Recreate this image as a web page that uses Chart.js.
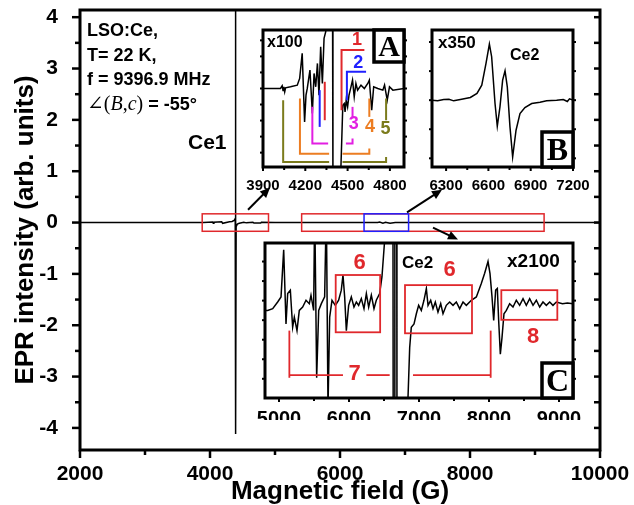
<!DOCTYPE html>
<html><head><meta charset="utf-8">
<script src="https://cdn.jsdelivr.net/npm/chart.js@4.4.1/dist/chart.umd.min.js"></script>
<style>
html,body{margin:0;padding:0;background:#fff;}
#wrap{position:relative;width:634px;height:505px;overflow:hidden;background:#fff;}
canvas{position:absolute;}
</style></head><body>
<div id="wrap">
<canvas id="main" width="634" height="505" style="left:0;top:0"></canvas>
<canvas id="insA" width="180" height="172" style="left:240px;top:20px"></canvas>
<canvas id="insB" width="180" height="172" style="left:420px;top:20px"></canvas>
<canvas id="insC" width="345" height="187" style="left:250px;top:233px"></canvas>
</div>
<script>
// ---------------- DATA ----------------
// main spectrum (field in G, intensity in arb. units)
const mainField  = [2000,3900,4040,4050,4060,4180,4195,4300,4340,4370,4388,4392,4396,4402,4420,4450,4520,4560,4660,4675,4780,4790,5000,6580,6610,6660,6700,6770,6850,10000];
const mainSignal = [0,0,0.012,-0.012,0.006,0.015,-0.015,0.015,0.02,0.04,0.08,6,-4.12,-0.08,-0.03,-0.015,0.006,-0.006,0.006,-0.01,-0.008,0.004,0,0,0.01,-0.012,0.006,-0.015,0,0];
const mainXTicks = [2000,4000,6000,8000,10000];
const mainYTicks = [-4,-3,-2,-1,0,1,2,3,4];

// inset A (x100)
const aField  = [3900,4024,4036,4042,4048,4054,4060,4095,4143,4160,4178,4195,4205,4214,4233,4250,4262,4274,4286,4297,4309,4321,4333,4345,4360,4393,4396,4448,4466,4476,4482,4490,4500,4510,4524,4535,4547,4559,4571,4595,4619,4643,4654,4671,4685,4714,4750,4762,4781,4797,4821,4904];
const aSignal = [0,0,0.08,-0.06,0.05,-0.1,0.02,0.05,0.1,0.3,1.05,-1.0,-0.2,0.0,0.55,-0.75,0.45,0.05,0.75,-0.2,1.25,0.15,1.5,1.7,3,3,-3,-3,-0.5,-0.45,-0.7,-0.35,-0.55,-0.2,0.05,0.25,-0.25,0.15,-0.05,0.1,0.0,0.15,0.25,-0.65,0.05,0,-0.05,0.1,-0.35,0.05,-0.05,0];
const aXTicks = [3900,4200,4500,4800];

// inset B (x350)
const bField  = [6200,6240,6283,6320,6354,6401,6472,6519,6553,6583,6607,6623,6647,6663,6682,6701,6718,6734,6753,6772,6796,6824,6859,6907,6966,7013,7084,7131,7160,7175,7200];
const bSignal = [0,-0.02,0.02,0.03,-0.02,0.02,0.08,0.2,0.45,1.1,1.68,1.3,-0.1,-0.78,-0.2,0.6,0.88,0.4,-0.8,-1.7,-0.9,-0.4,-0.22,-0.1,-0.06,-0.02,0,0.02,-0.04,0.04,0];
const bXTicks = [6300,6600,6900,7200];

// inset C (x2100)
const cField  = [4800,4838,4910,4981,5029,5067,5100,5124,5162,5195,5219,5257,5290,5338,5386,5433,5457,5495,5510,5538,5567,5605,5652,5676,5700,5724,5757,5805,5852,5890,5914,5938,5962,5995,6033,6071,6105,6138,6176,6214,6248,6281,6319,6357,6390,6438,6471,6510,6560,6628,6631,6652,6655,6682,6685,6838,6867,6890,6929,6962,6995,7033,7071,7105,7129,7167,7200,7233,7271,7310,7343,7390,7438,7486,7533,7581,7629,7676,7748,7819,7890,7938,7986,8014,8043,8067,8095,8119,8138,8162,8186,8214,8248,8295,8343,8390,8438,8486,8533,8581,8629,8676,8724,8771,8819,8867,8914,8962,9050,9120,9200];
const cSignal = [-0.1,-0.1,-0.05,0.15,0.3,1.7,-0.5,0.4,0.5,-0.6,-0.3,-0.7,-0.1,0.0,0.2,0.1,0.35,-0.1,3,-2.1,-0.1,0.1,0.3,3,-3,-0.3,0.2,0.05,0.2,0.5,0.95,0.3,-0.7,0.05,0.3,0.0,0.15,0.05,0.25,-0.05,0.4,0.0,0.35,-0.05,0.2,0.4,0.9,2.0,3,3,-3,-3,3,3,-3,-3,-1.2,-0.6,-0.5,-0.2,0.05,-0.1,0.2,0.55,0.05,0.2,-0.05,0.15,-0.15,0.1,-0.2,0.05,0.15,0.05,0.15,-0.05,0.15,0.05,0.2,0.3,0.7,1.0,1.35,1.0,0.3,-0.4,0.5,0.55,-0.4,-1.4,-0.9,-0.2,-0.1,0.1,0.0,0.2,0.05,0.25,0.05,0.25,0.05,0.2,0.0,0.15,0.05,0.15,0.05,0.15,0.1,0.12,0.1];
const cXTicks = [5000,6000,7000,8000,9000];

// ---------------- STYLE / HELPERS ----------------
const SANS = "'Liberation Sans', Arial, sans-serif";
const SERIF = "'Liberation Serif', 'DejaVu Serif', serif";
const RED='#e0282c', BLUE='#2020ff', MAG='#e21fe2', ORG='#ec7d22', OLV='#7b7b1c';
const pts = (xs,ys)=>xs.map((x,i)=>({x:x,y:ys[i]}));
const range=(a,b,s)=>{const r=[];for(let v=a;v<=b+1e-9;v+=s)r.push(+v.toFixed(4));return r;};
const plain = v => String(v);

const framePlugin = {
  id:'frame',
  beforeDraw(chart,args,o){
    if(o.fill){const a=chart.chartArea,c=chart.ctx;c.save();c.fillStyle='#fff';c.fillRect(a.left,a.top,a.right-a.left,a.bottom-a.top);c.restore();}
  },
  afterDraw(chart,args,o){
    const c=chart.ctx,a=chart.chartArea,X=chart.scales.x,Y=chart.scales.y;
    c.save(); c.strokeStyle='#000'; c.lineCap='butt';
    (o.ticks||[]).forEach(t=>{
      c.lineWidth=t.lw||2;
      t.values.forEach(v=>{
        c.beginPath();
        if(t.side==='bottom'||t.side==='top'){
          const x=X.getPixelForValue(v), y0=t.side==='bottom'?a.bottom:a.top, s=t.side==='bottom'?1:-1, d=t.mode==='in'?-s:s;
          c.moveTo(x,y0); c.lineTo(x,y0+d*t.len);
        } else {
          const y=Y.getPixelForValue(v), x0=t.side==='left'?a.left:a.right, s=t.side==='left'?-1:1, d=t.mode==='in'?-s:s;
          c.moveTo(x0,y); c.lineTo(x0+d*t.len,y);
        }
        c.stroke();
      });
    });
    c.lineWidth=o.lw; c.strokeRect(a.left,a.top,a.right-a.left,a.bottom-a.top);
    if(o.box){
      const b=o.box; const x=a.right-b.w; const y=b.corner==='tr'?a.top:a.bottom-b.h;
      c.fillStyle='#fff'; c.fillRect(x,y,b.w,b.h);
      c.lineWidth=3.5; c.strokeRect(x,y,b.w,b.h);
      c.fillStyle='#000'; c.font=b.font; c.textAlign='center'; c.textBaseline='middle';
      c.fillText(b.text,x+b.w/2,y+b.h/2+2);
    }
    c.restore();
  }
};

const annotPlugin = {
  id:'annot',
  afterDatasetsDraw(chart,args,o){
    const c=chart.ctx,a=chart.chartArea,X=chart.scales.x,Y=chart.scales.y;
    const px=v=>X.getPixelForValue(v), py=v=>Y.getPixelForValue(v);
    c.save();
    (o.rects||[]).forEach(r=>{c.strokeStyle=r.color;c.lineWidth=r.lw||1.5;c.strokeRect(px(r.x1),py(r.y2),px(r.x2)-px(r.x1),py(r.y1)-py(r.y2));});
    (o.segs||[]).forEach(s=>{c.strokeStyle=s.color;c.lineWidth=s.lw||2;c.beginPath();s.pts.forEach((p,i)=>{const X0=px(p[0]),Y0=py(p[1]);if(i)c.lineTo(X0,Y0);else c.moveTo(X0,Y0);});c.stroke();});
    (o.arrows||[]).forEach(ar=>{
      const x1=px(ar.x1),y1=py(ar.y1),x2=px(ar.x2),y2=py(ar.y2);
      const ang=Math.atan2(y2-y1,x2-x1), L=10, W=4.5;
      c.strokeStyle='#000';c.fillStyle='#000';c.lineWidth=2;
      c.beginPath();c.moveTo(x1,y1);c.lineTo(x2-Math.cos(ang)*L*0.8,y2-Math.sin(ang)*L*0.8);c.stroke();
      c.beginPath();c.moveTo(x2,y2);
      c.lineTo(x2-Math.cos(ang)*L+Math.sin(ang)*W,y2-Math.sin(ang)*L-Math.cos(ang)*W);
      c.lineTo(x2-Math.cos(ang)*L-Math.sin(ang)*W,y2-Math.sin(ang)*L+Math.cos(ang)*W);
      c.closePath();c.fill();
    });
    (o.texts||[]).forEach(t=>{
      c.font=t.font;c.fillStyle=t.color||'#000';c.textAlign=t.align||'center';c.textBaseline=t.baseline||'middle';
      const x=t.dx!=null?a.left+t.dx:px(t.x), y=t.dy!=null?a.top+t.dy:py(t.y);
      c.fillText(t.text,x,y);
    });
    (o.rich||[]).forEach(r=>{
      let x=a.left+r.dx; const y=a.top+r.dy;
      c.textAlign='left';c.textBaseline='alphabetic';c.fillStyle='#000';
      r.parts.forEach(p=>{c.font=p.font;c.fillText(p.t,x,y);x+=c.measureText(p.t).width+(p.gap||0);});
    });
    c.restore();
  }
};

function fixTicks(list){ return s=>{ s.ticks = list.map(v=>({value:v})); }; }

function makeInset(id, field, signal, xmin, xmax, ymin, ymax, xticks, pad, xh, tickFont, tickPad, frameOpts, annot){
  return new Chart(document.getElementById(id), {
    type:'line',
    data:{datasets:[{data:pts(field,signal),borderColor:'#000',borderWidth:1.5,pointRadius:0,tension:0,fill:false}]},
    options:{
      responsive:false, animation:false, events:[],
      layout:{padding:pad},
      plugins:{legend:{display:false},tooltip:{enabled:false},frame:frameOpts,annot:annot},
      scales:{
        x:{type:'linear',min:xmin,max:xmax,grid:{display:false},border:{display:false},
           afterBuildTicks:fixTicks(xticks), afterFit:s=>{s.height=xh;},
           ticks:{color:'#000',font:{family:SANS,size:tickFont,weight:'bold'},padding:tickPad,maxRotation:0,autoSkip:false,callback:plain}},
        y:{display:false,min:ymin,max:ymax}
      }
    },
    plugins:[framePlugin,annotPlugin]
  });
}

// ---------------- MAIN ----------------
new Chart(document.getElementById('main'), {
  type:'line',
  data:{datasets:[{data:pts(mainField,mainSignal),borderColor:'#000',borderWidth:1.5,pointRadius:0,tension:0,fill:false}]},
  options:{
    responsive:false, animation:false, events:[],
    layout:{padding:{left:0,right:34,top:10,bottom:0}},
    plugins:{
      legend:{display:false},tooltip:{enabled:false},
      frame:{lw:3,fill:false,ticks:[
        {side:'left',values:mainYTicks,len:8,mode:'out',lw:2.5},
        {side:'left',values:range(-3.5,3.5,1),len:5,mode:'out',lw:2.5},
        {side:'right',values:range(-4,4,0.5),len:6,mode:'in',lw:2.5},
        {side:'bottom',values:mainXTicks,len:8,mode:'out',lw:2.5},
        {side:'bottom',values:range(3000,9000,2000),len:5,mode:'out',lw:2.5}
      ]},
      annot:{
        rects:[
          {x1:3880,x2:4900,y1:-0.17,y2:0.17,color:RED,lw:1.5},
          {x1:5410,x2:9140,y1:-0.17,y2:0.17,color:RED,lw:1.5},
          {x1:6370,x2:7055,y1:-0.17,y2:0.17,color:BLUE,lw:1.5}
        ],
        arrows:[
          {x1:4585,y1:0.25,x2:4923,y2:0.68},
          {x1:7031,y1:0.2,x2:7569,y2:0.64},
          {x1:7431,y1:-0.1,x2:7815,y2:-0.33}
        ],
        texts:[
          {text:'LSO:Ce,',dx:7,dy:26,align:'left',baseline:'alphabetic',font:'bold 18px '+SANS},
          {text:'T= 22 K,',dx:7,dy:51,align:'left',baseline:'alphabetic',font:'bold 18px '+SANS},
          {text:'f = 9396.9 MHz',dx:7,dy:75,align:'left',baseline:'alphabetic',font:'bold 18px '+SANS},
          {text:'Ce1',dx:108,dy:139,align:'left',baseline:'alphabetic',font:'bold 21px '+SANS}
        ],
        rich:[{dx:7,dy:100,parts:[
          {t:'\u2220(',font:'20px '+SERIF},
          {t:'B',font:'italic 20px '+SERIF},
          {t:',',font:'20px '+SERIF},
          {t:'c',font:'italic 20px '+SERIF},
          {t:')',font:'20px '+SERIF},
          {t:' = -55\u00b0',font:'bold 18px '+SANS}
        ]}]
      }
    },
    scales:{
      x:{type:'linear',min:2000,max:10000,grid:{display:false},border:{display:false},
         afterBuildTicks:fixTicks(mainXTicks), afterFit:s=>{s.height=55;},
         ticks:{color:'#000',font:{family:SANS,size:21,weight:'bold'},padding:4,maxRotation:0,autoSkip:false,callback:plain},
         title:{display:true,text:'Magnetic field (G)',color:'#000',font:{family:SANS,size:26,weight:'bold'},padding:{top:0,bottom:-2}}},
      y:{min:-4.43,max:4.14,grid:{display:false},border:{display:false},
         afterBuildTicks:fixTicks(mainYTicks), afterFit:s=>{s.width=80;s.paddingTop=0;s.paddingBottom=0;},
         ticks:{color:'#000',font:{family:SANS,size:21,weight:'bold'},padding:14,autoSkip:false,callback:plain},
         title:{display:true,text:'EPR intensity (arb. units)',color:'#000',font:{family:SANS,size:26,weight:'bold'},padding:{top:10,bottom:0}}}
    }
  },
  plugins:[framePlugin,annotPlugin]
});

// ---------------- INSET A ----------------
makeInset('insA', aField, aSignal, 3900, 4900, -2.35, 1.75, aXTicks,
  {left:23,right:16,top:10,bottom:0}, 25, 15, 2,
  {lw:3,fill:true,box:{text:'A',w:30,h:32,corner:'tr',font:'bold 30px '+SERIF},ticks:[
    {side:'bottom',values:aXTicks,len:4,mode:'out',lw:2},
    {side:'bottom',values:[4050,4350,4650],len:3,mode:'out',lw:2},
    {side:'left',values:[-1.92,-1.44,-0.96,-0.48,0,0.48,0.96,1.44],len:3,mode:'out',lw:2},
    {side:'right',values:[-1.92,-1.44,-0.96,-0.48,0,0.48,0.96,1.44],len:3,mode:'out',lw:2}
  ]},
  {
    segs:[
      {color:RED,pts:[[4338,0.2],[4338,-0.95]]},
      {color:RED,pts:[[4619,1.15],[4457,1.15],[4457,-0.65]]},
      {color:BLUE,pts:[[4302,-0.05],[4302,-1.15]]},
      {color:BLUE,pts:[[4631,0.5],[4495,0.5],[4495,-0.35]]},
      {color:MAG,pts:[[4250,-0.55],[4250,-1.65],[4362,-1.65]]},
      {color:MAG,pts:[[4488,-1.65],[4535,-1.65],[4535,-1.5]]},
      {color:MAG,pts:[[4535,-0.55],[4535,-0.9]]},
      {color:ORG,pts:[[4162,-0.3],[4162,-1.95],[4369,-1.95]]},
      {color:ORG,pts:[[4464,-1.95],[4654,-1.95],[4654,-1.8]]},
      {color:ORG,pts:[[4654,-0.3],[4654,-0.85]]},
      {color:OLV,pts:[[4043,-0.35],[4043,-2.2],[4369,-2.2]]},
      {color:OLV,pts:[[4464,-2.2],[4773,-2.2],[4773,-2.05]]},
      {color:OLV,pts:[[4773,-0.3],[4773,-0.95]]}
    ],
    texts:[
      {text:'x100',dx:4,dy:17,align:'left',baseline:'alphabetic',font:'bold 16px '+SANS},
      {text:'1',x:4566,y:1.45,color:RED,font:'bold 18px '+SANS},
      {text:'2',x:4576,y:0.77,color:BLUE,font:'bold 18px '+SANS},
      {text:'3',x:4543,y:-1.07,color:MAG,font:'bold 18px '+SANS},
      {text:'4',x:4659,y:-1.15,color:ORG,font:'bold 18px '+SANS},
      {text:'5',x:4769,y:-1.2,color:OLV,font:'bold 18px '+SANS}
    ]
  });

// ---------------- INSET B ----------------
makeInset('insB', bField, bSignal, 6200, 7200, -2.0, 2.1, bXTicks,
  {left:12,right:27,top:10,bottom:0}, 25, 15, 2,
  {lw:3,fill:true,box:{text:'B',w:31,h:35,corner:'br',font:'bold 32px '+SERIF},ticks:[
    {side:'bottom',values:bXTicks,len:4,mode:'out',lw:2},
    {side:'bottom',values:[6450,6750,7050],len:3,mode:'out',lw:2},
    {side:'left',values:[-1.74,-0.87,0,0.87,1.74],len:3,mode:'out',lw:2},
    {side:'right',values:[-1.74,-0.87,0,0.87,1.74],len:3,mode:'out',lw:2}
  ]},
  {texts:[
    {text:'x350',dx:6,dy:18,align:'left',baseline:'alphabetic',font:'bold 17px '+SANS},
    {text:'Ce2',dx:78,dy:30,align:'left',baseline:'alphabetic',font:'bold 16px '+SANS}
  ]});

// ---------------- INSET C ----------------
makeInset('insC', cField, cSignal, 4800, 9200, -2.7, 1.9, cXTicks,
  {left:15,right:22,top:10,bottom:0}, 22, 20, 1,
  {lw:3,fill:true,box:{text:'C',w:31,h:35,corner:'br',font:'bold 32px '+SERIF},ticks:[
    {side:'bottom',values:cXTicks,len:4,mode:'out',lw:2},
    {side:'bottom',values:[5500,6500,7500,8500],len:3,mode:'out',lw:2},
    {side:'left',values:[1.35,0.77,0.19,-0.39,-0.97,-1.55,-2.13],len:3,mode:'out',lw:2},
    {side:'right',values:[1.35,0.77,0.19,-0.39,-0.97,-1.55,-2.13],len:3,mode:'out',lw:2}
  ]},
  {
    rects:[
      {x1:5810,x2:6445,y1:-0.75,y2:0.95,color:RED,lw:1.8},
      {x1:6800,x2:7757,y1:-0.78,y2:0.65,color:RED,lw:1.8},
      {x1:8176,x2:8976,y1:-0.38,y2:0.5,color:RED,lw:1.8}
    ],
    segs:[
      {color:RED,lw:1.8,pts:[[5148,-0.7],[5148,-2.1]]},
      {color:RED,lw:1.8,pts:[[5148,-2.02],[5914,-2.02]]},
      {color:RED,lw:1.8,pts:[[6248,-2.02],[6581,-2.02]]},
      {color:RED,lw:1.8,pts:[[6914,-2.02],[8024,-2.02]]},
      {color:RED,lw:1.8,pts:[[8024,-0.7],[8024,-2.1]]}
    ],
    texts:[
      {text:'Ce2',dx:137,dy:25,align:'left',baseline:'alphabetic',font:'bold 17px '+SANS},
      {text:'x2100',dx:242,dy:24,align:'left',baseline:'alphabetic',font:'bold 19px '+SANS},
      {text:'6',x:6152,y:1.3,color:RED,font:'bold 22px '+SANS},
      {text:'6',x:7438,y:1.1,color:RED,font:'bold 22px '+SANS},
      {text:'8',x:8629,y:-0.9,color:RED,font:'bold 22px '+SANS},
      {text:'7',x:6081,y:-2.0,color:RED,font:'bold 22px '+SANS}
    ]
  });
</script>
</body></html>
